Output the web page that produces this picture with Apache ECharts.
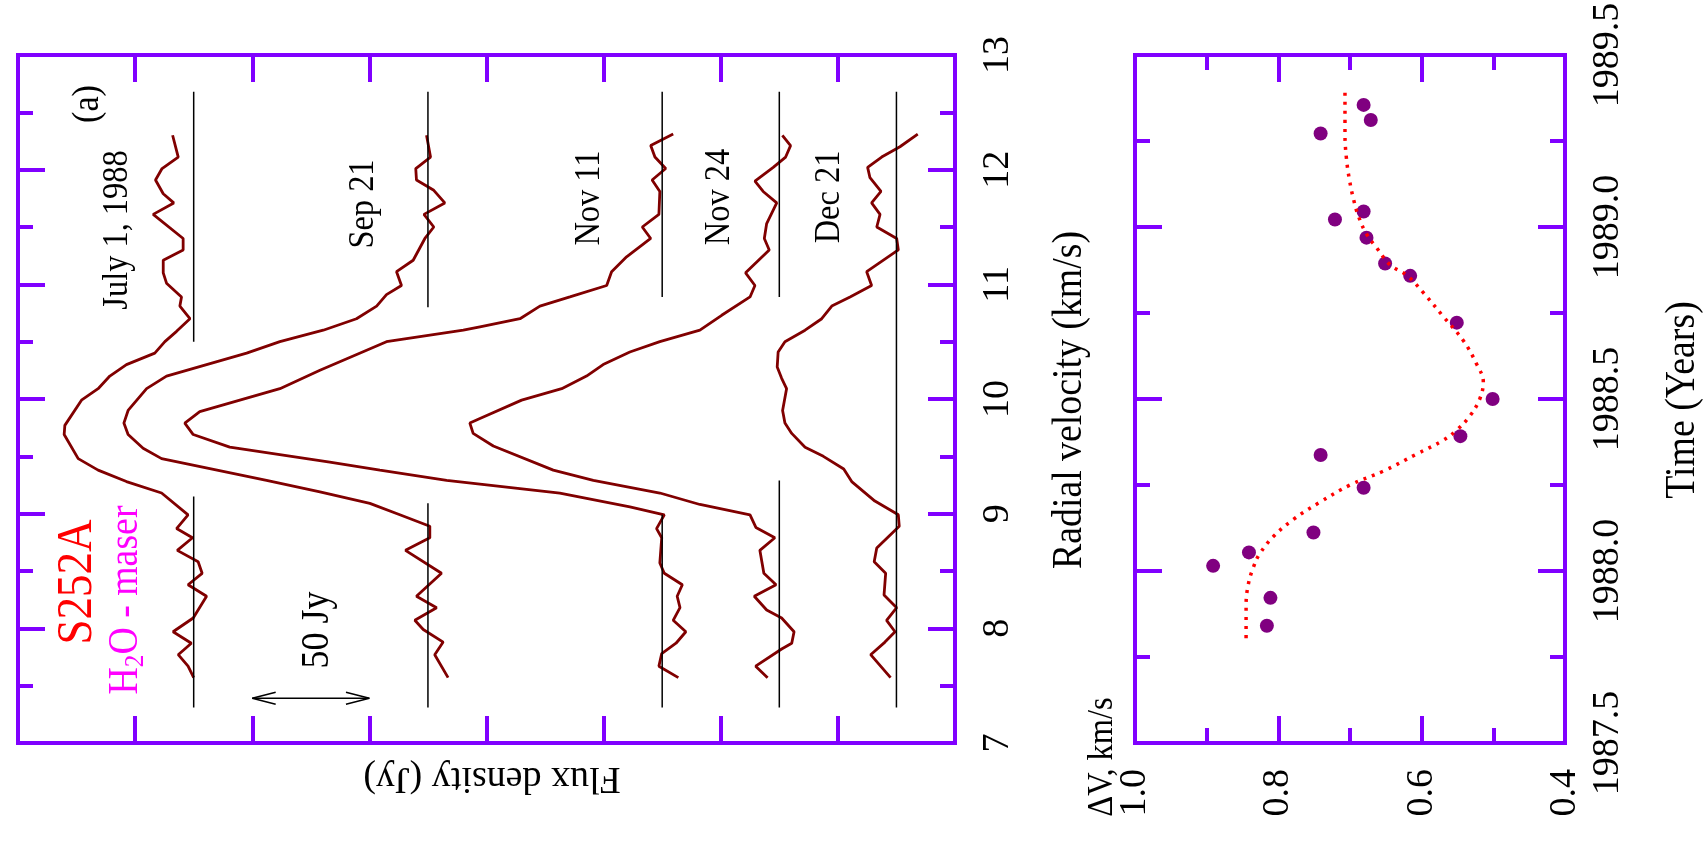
<!DOCTYPE html>
<html>
<head>
<meta charset="utf-8">
<script src="https://cdn.jsdelivr.net/npm/echarts@6.0.0/dist/echarts.min.js"></script>
<style>
  html, body { margin: 0; padding: 0; background: #fff; }
  #chart { width: 1707px; height: 862px; }
</style>
</head>
<body>
<div id="chart"></div>
<script>
// --- panel (a): H2O maser spectra, velocity (km/s) vs flux above baseline (Jy)
const SPECTRUM_NAMES = ["July 1, 1988", "Sep 21", "Nov 11", "Nov 24", "Dec 21"];
const SPECTRUM_OFFSETS = [325, 225, 125, 75, 25];

const JULY_V = [12.30, 12.11, 12.01, 11.91, 11.79, 11.71, 11.61, 11.40, 11.30, 11.21, 11.10, 11.01,
  10.89, 10.81, 10.70, 10.59, 10.50, 10.40, 10.30, 10.20, 10.09, 9.99, 9.77, 9.69, 9.48, 9.38, 9.28,
  9.18, 8.99, 8.87, 8.79, 8.68, 8.58, 8.48, 8.38, 8.28, 8.09, 7.97, 7.87, 7.77, 7.67, 7.57];
const JULY_F = [9.0, 6.6, 13.5, 16.3, 13.0, 8.5, 17.3, 4.5, 4.5, 13.0, 13.0, 11.6,
  5.2, 5.9, 1.6, 7.3, 12.3, 16.6, 28.7, 35.8, 40.8, 47.9, 55.0, 55.3, 49.3, 40.8, 28.7,
  13.7, 2.4, 7.3, 0.5, 7.0, -1.9, -3.6, 2.4, -5.5, 0.2, 8.8, 1.0, 6.6, 2.4, 0.0];

const SEP_V = [12.30, 12.11, 12.01, 11.91, 11.82, 11.71, 11.61, 11.50, 11.40, 11.21, 11.11, 10.99,
  10.91, 10.81, 10.70, 10.60, 10.50, 10.40, 10.30, 10.20, 10.09, 9.90, 9.79, 9.69, 9.57, 9.48,
  9.29, 9.19, 9.09, 8.99, 8.89, 8.79, 8.68, 8.48, 8.28, 8.18, 8.07, 7.99, 7.88, 7.77, 7.57];
const SEP_F = [0.6, -1.1, 5.2, 4.9, -2.5, -7.2, 1.7, -2.5, 1.3, 6.3, 13.4, 11.3,
  17.7, 21.9, 30.5, 44.7, 63.2, 77.4, 94.5, 111.6, 120.1, 128.0, 129.8, 128.0, 121.6, 113.7,
  68.9, 46.1, 24.8, 12.0, -0.8, -0.8, 9.6, -5.8, 4.9, -3.7, 5.6, 2.0, -6.5, -2.9, -8.6];

const NOV11_V = [12.31, 12.21, 12.11, 12.01, 11.91, 11.81, 11.61, 11.50, 11.40, 11.24, 11.11, 10.99,
  10.89, 10.81, 10.70, 10.63, 10.60, 10.50, 10.25, 10.09, 9.89, 9.79, 9.69, 9.58, 9.45, 9.38,
  9.29, 9.18, 9.06, 8.99, 8.87, 8.79, 8.57, 8.48, 8.38, 8.28, 8.18, 8.07, 7.97, 7.87, 7.78, 7.67, 7.57];
const NOV11_F = [-4.7, 4.9, 3.1, -1.5, 4.3, 1.0, 1.4, 8.5, 4.9, 15.2, 21.6, 23.7,
  39.4, 52.2, 60.7, 77.8, 84.9, 117.7, 146.1, 163.2, 197.4, 203.8, 200.2, 184.6, 141.9, 120.5,
  92.0, 43.7, 13.8, -0.9, 2.4, 0.2, 1.0, -0.9, -8.6, -6.4, -7.6, -4.7, -10.1, -5.9, 0.2, 1.4, -6.9];

const NOV24_V = [12.30, 12.21, 12.11, 12.02, 11.90, 11.81, 11.71, 11.53, 11.40, 11.30, 11.10, 10.99,
  10.89, 10.73, 10.60, 10.50, 10.41, 10.30, 10.20, 10.09, 9.99, 9.83, 9.79, 9.70, 9.59, 9.38,
  9.29, 9.23, 9.18, 9.08, 8.99, 8.88, 8.79, 8.68, 8.48, 8.38, 8.28, 8.16, 8.09, 7.97, 7.87, 7.82, 7.67, 7.57];
const NOV24_F = [-1.3, -4.8, -2.7, 2.6, 10.4, 6.9, 1.1, 5.4, 6.4, 4.3, 14.4, 10.4,
  12.5, 24.6, 33.9, 51.0, 63.8, 75.2, 82.3, 92.9, 110.0, 127.8, 132.1, 130.7, 122.1, 96.5,
  79.4, 63.8, 51.0, 33.9, 12.5, 10.0, 1.9, 8.3, 6.6, 1.4, 10.7, 5.4, -1.0, -6.3, -5.3, -1.0, 10.1, 5.0];

const DEC21_V = [12.31, 12.20, 12.11, 12.02, 11.93, 11.81, 11.71, 11.61, 11.50, 11.40, 11.30, 11.11,
  10.99, 10.89, 10.81, 10.70, 10.60, 10.50, 10.41, 10.28, 10.18, 10.09, 9.90, 9.79, 9.70, 9.58,
  9.50, 9.39, 9.28, 9.11, 8.99, 8.89, 8.70, 8.58, 8.48, 8.29, 8.18, 8.07, 7.97, 7.88, 7.77, 7.57];
const DEC21_F = [-9.1, -1.5, 6.3, 12.3, 11.3, 6.6, 10.6, 7.0, 8.4, -0.1, -0.8, 12.7,
  10.6, 19.8, 27.6, 31.9, 39.0, 47.6, 50.5, 50.9, 49.0, 46.9, 48.6, 47.6, 44.7, 39.0,
  31.2, 22.5, 19.1, 9.2, -0.8, -1.2, 8.4, 9.5, 4.6, 5.3, -0.1, 4.2, 0.6, 4.9, 11.0, 2.5];

// baseline segments (velocity ranges), null = no gap
const BASE_TOP = 12.68;
const BASE_BOTTOM = 7.31;
const BASE_GAP_TOP = [10.50, 10.80, 10.89, 10.89, null];
const BASE_GAP_BOTTOM = [9.15, 9.09, 8.99, 9.29, null];

// 50 Jy scale arrow
const ARROW_FLUX = [300, 250];
const ARROW_V = 7.39;
const ARROW_HEAD = [10, 0.052];

// --- panel (b): line width vs time
const OBS_TIME = [1989.355, 1989.311, 1989.272, 1989.045, 1989.022, 1988.969, 1988.894, 1988.858,
  1988.722, 1988.500, 1988.392, 1988.337, 1988.242, 1988.112, 1988.054, 1988.015, 1987.922, 1987.841];
const OBS_DV = [0.681, 0.671, 0.741, 0.681, 0.721, 0.677, 0.651, 0.616,
  0.551, 0.501, 0.546, 0.741, 0.681, 0.751, 0.841, 0.891, 0.811, 0.816];

const FIT_TIME = [1989.39, 1989.27, 1989.20, 1989.14, 1989.08, 1989.03, 1988.98, 1988.94, 1988.89,
  1988.86, 1988.81, 1988.74, 1988.67, 1988.60, 1988.55, 1988.50, 1988.45, 1988.41, 1988.38,
  1988.34, 1988.29, 1988.25, 1988.20, 1988.15, 1988.10, 1988.05, 1988.01, 1987.96, 1987.90, 1987.80];
const FIT_DV = [0.707, 0.707, 0.705, 0.701, 0.695, 0.688, 0.677, 0.663, 0.644,
  0.621, 0.598, 0.570, 0.542, 0.523, 0.514, 0.519, 0.533, 0.551, 0.570,
  0.607, 0.654, 0.700, 0.742, 0.779, 0.807, 0.826, 0.835, 0.842, 0.845, 0.845];

const AXIS_COLOR = "#8000ff";
const LINE_RED = "#800000";
const SERIF = "'Liberation Serif', 'DejaVu Serif', serif";

const spectra = [
  { v: JULY_V, f: JULY_F },
  { v: SEP_V, f: SEP_F },
  { v: NOV11_V, f: NOV11_F },
  { v: NOV24_V, f: NOV24_F },
  { v: DEC21_V, f: DEC21_F },
];

function frameAxis(extra) {
  return Object.assign(
    {
      type: "value",
      axisLine: {
        show: true,
        onZero: false,
        lineStyle: { color: AXIS_COLOR, width: 4, cap: "square" },
      },
      axisTick: { show: true, inside: true, length: 27, lineStyle: { color: AXIS_COLOR, width: 4 } },
      splitLine: { show: false },
      axisLabel: { show: false },
    },
    extra,
  );
}

function minor() {
  return { show: true, splitNumber: 2, length: 15, lineStyle: { color: AXIS_COLOR, width: 4 } };
}

function tickLabel(margin, digits) {
  return {
    show: true,
    rotate: 90,
    margin,
    color: "#000",
    fontFamily: SERIF,
    fontSize: 38,
    showMinLabel: true,
    showMaxLabel: true,
    formatter: (value) => Number(value).toFixed(digits),
  };
}

function vText(text, x, y, size, color, extra) {
  return Object.assign(
    {
      type: "text",
      x,
      y,
      rotation: Math.PI / 2,
      scaleX: 0.9,
      silent: true,
      style: {
        text,
        fontFamily: SERIF,
        fontSize: size,
        fill: color || "#000",
        align: "center",
        verticalAlign: "middle",
      },
    },
    extra || {},
  );
}

const series = [];

spectra.forEach((s, i) => {
  series.push({
    name: SPECTRUM_NAMES[i],
    type: "line",
    xAxisIndex: 0,
    yAxisIndex: 0,
    symbol: "none",
    data: s.v.map((v, k) => [SPECTRUM_OFFSETS[i] + s.f[k], v]),
    lineStyle: { color: LINE_RED, width: 2.8 },
  });

  const segments = BASE_GAP_TOP[i] === null
    ? [[BASE_TOP, BASE_BOTTOM]]
    : [[BASE_TOP, BASE_GAP_TOP[i]], [BASE_GAP_BOTTOM[i], BASE_BOTTOM]];
  segments.forEach((seg) => {
    series.push({
      type: "line",
      xAxisIndex: 0,
      yAxisIndex: 0,
      symbol: "none",
      data: seg.map((v) => [SPECTRUM_OFFSETS[i], v]),
      lineStyle: { color: "#000", width: 1.5 },
    });
  });
});

// double-headed arrow for the 50 Jy scale
series.push({
  type: "line",
  xAxisIndex: 0,
  yAxisIndex: 0,
  symbol: "none",
  data: ARROW_FLUX.map((f) => [f, ARROW_V]),
  lineStyle: { color: "#000", width: 1.5 },
});
[[ARROW_FLUX[0], -1], [ARROW_FLUX[1], 1]].forEach(([tip, dir]) => {
  series.push({
    type: "line",
    xAxisIndex: 0,
    yAxisIndex: 0,
    symbol: "none",
    data: [
      [tip + dir * ARROW_HEAD[0], ARROW_V + ARROW_HEAD[1]],
      [tip, ARROW_V],
      [tip + dir * ARROW_HEAD[0], ARROW_V - ARROW_HEAD[1]],
    ],
    lineStyle: { color: "#000", width: 1.5 },
  });
});

series.push({
  type: "line",
  xAxisIndex: 2,
  yAxisIndex: 2,
  symbol: "none",
  smooth: 0.4,
  data: FIT_TIME.map((t, k) => [FIT_DV[k], t]),
  lineStyle: { color: "#ff0000", width: 3.5, type: [3, 6] },
});

series.push({
  type: "scatter",
  xAxisIndex: 2,
  yAxisIndex: 2,
  symbolSize: 14,
  data: OBS_TIME.map((t, k) => [OBS_DV[k], t]),
  itemStyle: { color: "#800080", opacity: 1 },
});

const chart = echarts.init(document.getElementById("chart"), undefined, { renderer: "canvas" });

chart.setOption({
  animation: false,
  backgroundColor: "#fff",
  textStyle: { fontFamily: SERIF },
  grid: [
    { left: 18, top: 55, width: 937, height: 688, containLabel: false, outerBoundsMode: "none" },
    { left: 1135, top: 55, width: 430, height: 688, containLabel: false, outerBoundsMode: "none" },
  ],
  xAxis: [
    frameAxis({ gridIndex: 0, position: "bottom", min: 0, max: 400, interval: 50, inverse: true }),
    frameAxis({ gridIndex: 0, position: "top", min: 0, max: 400, interval: 50, inverse: true }),
    frameAxis({
      gridIndex: 1, position: "bottom", min: 0.4, max: 1.0, interval: 0.2, inverse: true,
      minorTick: minor(), axisLabel: tickLabel(26, 1),
    }),
    frameAxis({
      gridIndex: 1, position: "top", min: 0.4, max: 1.0, interval: 0.2, inverse: true,
      minorTick: minor(),
    }),
  ],
  yAxis: [
    frameAxis({
      gridIndex: 0, position: "right", min: 7, max: 13, interval: 1,
      minorTick: minor(), axisLabel: tickLabel(24, 0),
    }),
    frameAxis({ gridIndex: 0, position: "left", min: 7, max: 13, interval: 1, minorTick: minor() }),
    frameAxis({
      gridIndex: 1, position: "right", min: 1987.5, max: 1989.5, interval: 0.5,
      minorTick: minor(), axisLabel: tickLabel(24, 1),
    }),
    frameAxis({ gridIndex: 1, position: "left", min: 1987.5, max: 1989.5, interval: 0.5, minorTick: minor() }),
  ],
  series,
  graphic: {
    elements: [
      vText("(a)", 88, 104, 38),
      vText(SPECTRUM_NAMES[0], 118, 230, 36),
      vText(SPECTRUM_NAMES[1], 364, 204, 36),
      vText(SPECTRUM_NAMES[2], 590, 198, 36),
      vText(SPECTRUM_NAMES[3], 720, 197, 36),
      vText(SPECTRUM_NAMES[4], 830, 197, 36),
      vText("S252A", 78, 582, 50, "#ff0000"),
      vText("", 126, 600, 42, "#ff00ff", {
        style: {
          text: "{m|H}{s|2}{m|O - maser}",
          fontFamily: SERIF,
          fill: "#ff00ff",
          align: "center",
          verticalAlign: "middle",
          rich: {
            m: { fontFamily: SERIF, fontSize: 42, fill: "#ff00ff", lineHeight: 48 },
            s: { fontFamily: SERIF, fontSize: 28, fill: "#ff00ff", lineHeight: 28, verticalAlign: "bottom" },
          },
        },
      }),
      vText("50 Jy", 317, 630, 40),
      vText("Radial velocity (km/s)", 1070, 400, 42),
      vText("Time (Years)", 1683, 400, 42),
      vText("ΔV, km/s", 1103, 757, 36),
      {
        type: "text",
        x: 492,
        y: 778,
        rotation: Math.PI,
        silent: true,
        style: {
          text: "Flux density (Jy)",
          fontFamily: SERIF,
          fontSize: 38,
          fill: "#000",
          align: "center",
          verticalAlign: "middle",
        },
      },
    ],
  },
});
</script>
</body>
</html>
